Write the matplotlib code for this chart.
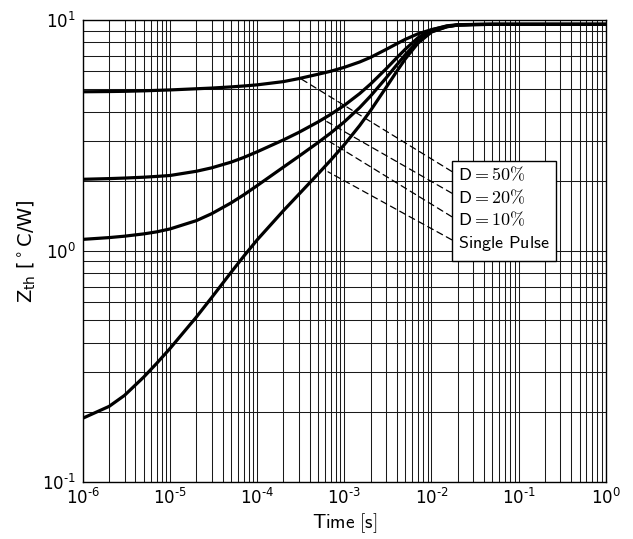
import math
import matplotlib
matplotlib.use("Agg")
import matplotlib.pyplot as plt
from matplotlib.patches import Rectangle
from matplotlib.ticker import FuncFormatter

plt.rcParams["mathtext.fontset"] = "dejavusans"
plt.rcParams["font.family"] = "DejaVu Sans"

# ---------------------------------------------------------------- data
time_s = [1e-6, 2e-6, 3e-6, 5e-6, 7e-6,
          1e-5, 2e-5, 3e-5, 5e-5, 7e-5,
          1e-4, 2e-4, 3e-4, 5e-4, 7e-4,
          1e-3, 1.5e-3, 2e-3, 3e-3, 4e-3,
          5e-3, 7e-3, 1e-2, 1.5e-2, 2e-2,
          3e-2, 5e-2, 1e-1, 1.0]

zth_d50 = [4.887, 4.898, 4.909, 4.932, 4.955,
           4.977, 5.035, 5.070, 5.129, 5.176,
           5.236, 5.408, 5.572, 5.821, 5.998,
           6.237, 6.577, 6.887, 7.447, 7.889,
           8.241, 8.710, 9.078, 9.397, 9.506,
           9.55, 9.57, 9.57, 9.57]
zth_d20 = [2.042, 2.056, 2.067, 2.085, 2.101,
           2.121, 2.212, 2.289, 2.422, 2.538,
           2.687, 3.024, 3.259, 3.619, 3.904,
           4.269, 4.800, 5.279, 6.132, 6.859,
           7.466, 8.371, 9.055, 9.430, 9.539,
           9.56, 9.57, 9.57, 9.57]
zth_d10 = [1.122, 1.142, 1.158, 1.185, 1.209,
           1.245, 1.352, 1.449, 1.613, 1.748,
           1.918, 2.306, 2.567, 2.947, 3.243,
           3.622, 4.174, 4.684, 5.598, 6.392,
           7.067, 8.084, 8.900, 9.343, 9.506,
           9.55, 9.57, 9.57, 9.57]
zth_single = [0.1887, 0.2123, 0.2368, 0.2846, 0.3256,
              0.3782, 0.5168, 0.6278, 0.8064, 0.9478,
              1.117, 1.494, 1.757, 2.156, 2.475,
              2.885, 3.491, 4.054, 5.087, 5.994,
              6.777, 7.938, 8.865, 9.346, 9.506,
              9.55, 9.57, 9.57, 9.57]

labels = [r"$\mathsf{D}=50\%$", r"$\mathsf{D}=20\%$", r"$\mathsf{D}=10\%$",
          r"$\mathsf{Single\ Pulse}$"]
# where each leader line touches its curve (t, Zth)
anchor_t = [3.08e-4, 6.3e-4, 6.8e-4, 6.5e-4]
anchor_z = [5.6, 3.63, 2.97, 2.2]


def pow10(v, pos):
    e = int(round(math.log10(v)))
    s = str(e).replace("-", "\u2010")
    return r"$\mathdefault{10^{%s}}$" % s


# ---------------------------------------------------------------- figure
fig = plt.figure(figsize=(6.33, 5.39), dpi=100)
ax = fig.add_axes([0.131, 0.106, 0.826, 0.857])

for z in (zth_d50, zth_d20, zth_d10, zth_single):
    ax.plot(time_s, z, color="black", lw=2.3, solid_capstyle="round",
            solid_joinstyle="round", zorder=3)

ax.set_xscale("log")
ax.set_yscale("log")
ax.set_xlim(1e-6, 1)
ax.set_ylim(0.1, 10)
ax.xaxis.set_major_formatter(FuncFormatter(pow10))
ax.yaxis.set_major_formatter(FuncFormatter(pow10))

ax.grid(True, which="both", color="0.1", lw=0.75)
ax.tick_params(which="both", length=0)
ax.tick_params(axis="x", pad=4, labelsize=12)
ax.tick_params(axis="y", pad=5, labelsize=12)
for sp in ax.spines.values():
    sp.set_linewidth(1.0)

ax.set_xlabel(r"$\mathsf{Time}\ [\mathsf{s}]$", fontsize=14, labelpad=3,
              math_fontfamily="cm")
ax.set_ylabel(r"Z$_{\mathrm{th}}$ [$^\circ$C/W]", fontsize=14, labelpad=3)

# ---------------------------------------------------------------- label box
box_x0, box_x1 = 0.7055, 0.904
box_y0, box_y1 = 0.479, 0.6955
ax.add_patch(Rectangle((box_x0, box_y0), box_x1 - box_x0, box_y1 - box_y0,
                       transform=ax.transAxes, facecolor="white",
                       edgecolor="black", lw=1.0, zorder=5))

text_y = [0.652, 0.604, 0.555, 0.506]
end_y = [0.672, 0.625, 0.574, 0.524]
for lab, ty, ey, t0, z0 in zip(labels, text_y, end_y, anchor_t, anchor_z):
    ax.text(0.717, ty, lab, transform=ax.transAxes, fontsize=13,
            va="baseline", ha="left", math_fontfamily="cm", zorder=6)
    ax.annotate("", xy=(t0, z0), xycoords="data",
                xytext=(box_x0, ey), textcoords="axes fraction",
                arrowprops=dict(arrowstyle="-", color="black", lw=0.9,
                                linestyle=(0, (5, 3.5)),
                                shrinkA=0, shrinkB=0),
                zorder=4)

fig.savefig("out.png", dpi=100)
